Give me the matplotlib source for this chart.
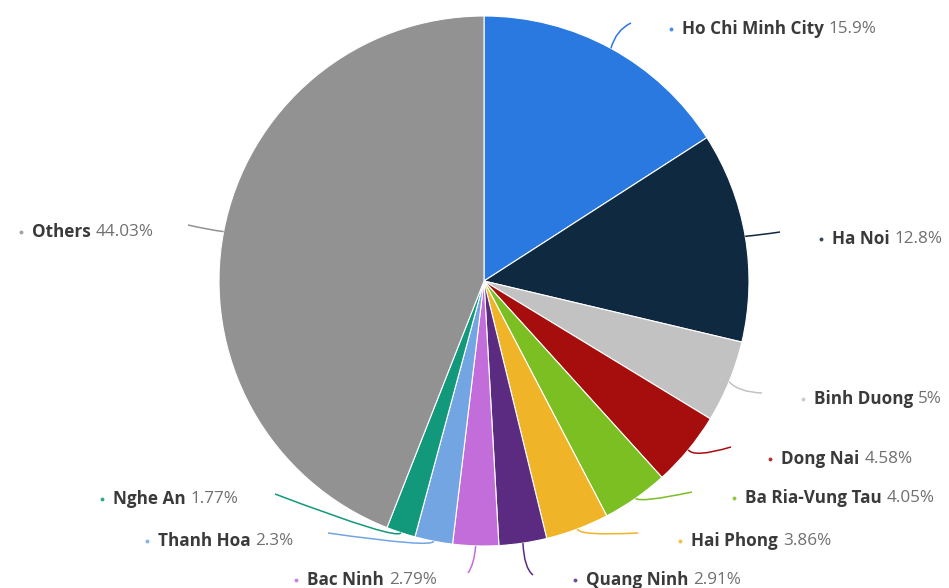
import numpy as np
import matplotlib.pyplot as plt
from matplotlib.path import Path
from matplotlib.patches import PathPatch

W, H = 949, 588

provinces = ['Ho Chi Minh City', 'Ha Noi', 'Binh Duong', 'Dong Nai', 'Ba Ria-Vung Tau',
             'Hai Phong', 'Quang Ninh', 'Bac Ninh', 'Thanh Hoa', 'Nghe An', 'Others']
shares = [15.9, 12.8, 5, 4.58, 4.05, 3.86, 2.91, 2.79, 2.3, 1.77, 44.03]
share_labels = ['15.9%', '12.8%', '5%', '4.58%', '4.05%', '3.86%', '2.91%', '2.79%',
                '2.3%', '1.77%', '44.03%']
colors = ['#2a79e0', '#0e2940', '#c2c2c2', '#a60d0d', '#7bbf22', '#f0b428', '#5a2b80',
          '#c36ddb', '#72a5e2', '#12987a', '#929292']

# label layout in pixels (top-left origin): dot position, connector end, bend point
label_pos = [(671, 29), (821, 239), (803, 399), (770, 459), (734, 498), (680, 541),
             (575, 580), (296, 580), (147, 541), (102, 499), (21, 232)]
line_end = [(631, 23), (780, 232), (762, 393), (731, 447), (692, 492), (638, 533),
            (533, 575), (468, 573), (328, 533), (275, 494), (188, 225)]
line_bend = [(616, 30), (760, 235), (738, 392), (694, 458), (640, 503), (579, 536),
             (524, 568), (474, 565), (433, 548), (399, 541), (210, 230)]

cx, cy, R = 484, 281, 265

fig = plt.figure(figsize=(W / 100, H / 100), dpi=100)
ax = fig.add_axes([0, 0, 1, 1])

ax.pie(shares, colors=colors, startangle=90, counterclock=False,
       center=(cx, H - cy), radius=R,
       wedgeprops=dict(edgecolor='white', linewidth=0.8))
ax.set_xlim(0, W)
ax.set_ylim(0, H)
ax.set_aspect('equal')
ax.axis('off')

# mid-angle of each wedge, going clockwise from the top
cum = np.cumsum([0] + shares[:-1])
mid = np.deg2rad(90 - (cum + np.array(shares) / 2) * 360 / sum(shares))

renderer = fig.canvas.get_renderer()
font = 'Open Sans'
for i, name in enumerate(provinces):
    sx = cx + R * np.cos(mid[i])
    sy = H - cy + R * np.sin(mid[i])
    bx, by = line_bend[i]
    ex, ey = line_end[i]
    path = Path([(sx, sy), (bx, H - by), (ex, H - ey)],
                [Path.MOVETO, Path.CURVE3, Path.CURVE3])
    ax.add_patch(PathPatch(path, fill=False, edgecolor=colors[i], lw=1.1))

    lx, ly = label_pos[i]
    ax.plot(lx, H - ly, 'o', ms=2.8, color=colors[i], mec='none', alpha=0.85)
    t = ax.text(lx + 11, H - ly, name, fontsize=12.3, fontweight='bold',
                family=font, color='#3a3a3a', va='center', ha='left')
    bb = t.get_window_extent(renderer)
    ax.text(bb.x1 + 5, H - ly, share_labels[i], fontsize=12.3, family=font,
            color='#707070', va='center', ha='left')

fig.savefig('out.png', dpi=100)
